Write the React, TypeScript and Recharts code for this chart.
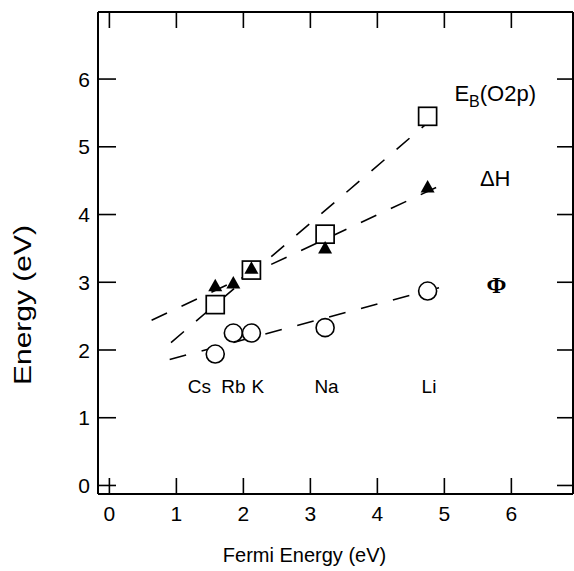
import { ComposedChart, Line, Scatter, XAxis, YAxis, ReferenceDot } from "recharts";

// alkali metals, left to right along the Fermi-energy axis
const metals = ["Cs", "Rb", "K", "Na", "Li"];
const fermiEnergy = [1.58, 1.85, 2.12, 3.22, 4.75];
// O 2p binding energy (no Rb point)
const bindingO2p = [2.67, null, 3.18, 3.71, 5.45];
const enthalpy = [2.94, 2.98, 3.2, 3.5, 4.4];
const workFunction = [1.94, 2.25, 2.25, 2.33, 2.87];

// dashed trend lines, end points in eV
const bindingFit = [
    { x: 0.92, y: 2.11 },
    { x: 4.98, y: 5.55 },
];
const enthalpyFit = [
    { x: 0.63, y: 2.44 },
    { x: 4.92, y: 4.42 },
];
const workFit = [
    { x: 0.9, y: 1.86 },
    { x: 4.92, y: 2.92 },
];

const tickValues = [0, 1, 2, 3, 4, 5, 6];
const xDomain = [-0.17, 6.92];
const yDomain = [-0.126, 6.99];

const toPoints = (ys: (number | null)[]) =>
    ys
        .map((y, i) => (y == null ? null : { x: fermiEnergy[i], y, name: metals[i] }))
        .filter(Boolean) as { x: number; y: number; name: string }[];

const squares = toPoints(bindingO2p);
const triangles = toPoints(enthalpy);
const circles = toPoints(workFunction);

const INK = "#000";
const TICK = 16;

function BottomTick({ x, y, payload }: any) {
    return (
        <g>
            <line x1={x} y1={y} x2={x} y2={y - TICK} stroke={INK} strokeWidth={1.6} />
            <text x={x} y={y + 27} textAnchor="middle" fontSize={21} fill={INK}>
                {payload.value}
            </text>
        </g>
    );
}

function TopTick({ x, y }: any) {
    return <line x1={x} y1={y} x2={x} y2={y + TICK} stroke={INK} strokeWidth={1.6} />;
}

function LeftTick({ x, y, payload }: any) {
    return (
        <g>
            <line x1={x} y1={y} x2={x + TICK + 2} y2={y} stroke={INK} strokeWidth={1.6} />
            <text x={x - 8} y={y} dy="0.36em" textAnchor="end" fontSize={21} fill={INK}>
                {payload.value}
            </text>
        </g>
    );
}

function RightTick({ x, y }: any) {
    return <line x1={x} y1={y} x2={x - TICK} y2={y} stroke={INK} strokeWidth={1.6} />;
}

function YTitle({ viewBox }: any) {
    const x = 31;
    const y = viewBox.y + viewBox.height / 2 + 52;
    return (
        <text
            x={x}
            y={y}
            transform={`rotate(-90, ${x}, ${y})`}
            textAnchor="middle"
            fontSize={23}
            textLength={160}
            lengthAdjust="spacingAndGlyphs"
            fill={INK}
        >
            Energy (eV)
        </text>
    );
}

function XTitle({ viewBox }: any) {
    const x = viewBox.x + viewBox.width / 2 - 31;
    return (
        <text x={x} y={viewBox.y + 68} textAnchor="middle" fontSize={20} fill={INK}>
            Fermi Energy (eV)
        </text>
    );
}

const Square = ({ cx, cy }: any) => (
    <rect x={cx - 9} y={cy - 9} width={18} height={18} fill="#fff" stroke={INK} strokeWidth={1.7} />
);
const Triangle = ({ cx, cy }: any) => (
    <polygon points={`${cx},${cy - 7.5} ${cx - 7},${cy + 5} ${cx + 7},${cy + 5}`} fill={INK} />
);
const Ring = ({ cx, cy }: any) => (
    <circle cx={cx} cy={cy} r={9} fill="#fff" stroke={INK} strokeWidth={1.6} />
);

// in-plot captions
const metalLabelX = [1.17, 1.67, 2.12, 3.06, 4.66];
const metalLabelY = 1.36;

const dash = { stroke: INK, strokeWidth: 1.6, strokeDasharray: "17 16" };

export default function App() {
    return (
        <div
            style={{
                position: "absolute",
                left: 0,
                top: 0,
                width: 574,
                height: 571,
                background: "#fff",
                fontFamily: "'Liberation Sans', Arial, sans-serif",
            }}
        >
            <ComposedChart width={574} height={571} margin={{ top: 0, right: 0, bottom: 0, left: 0 }}>
                <XAxis
                    xAxisId={0}
                    type="number"
                    dataKey="x"
                    domain={xDomain}
                    ticks={tickValues}
                    interval={0}
                    allowDataOverflow
                    height={77}
                    tickSize={0}
                    tickMargin={0}
                    tickLine={false}
                    axisLine={{ stroke: INK, strokeWidth: 2 }}
                    tick={<BottomTick />}
                    label={<XTitle />}
                />
                <XAxis
                    xAxisId="top"
                    orientation="top"
                    type="number"
                    dataKey="x"
                    domain={xDomain}
                    ticks={tickValues}
                    interval={0}
                    allowDataOverflow
                    height={12}
                    tickSize={0}
                    tickMargin={0}
                    tickLine={false}
                    axisLine={{ stroke: INK, strokeWidth: 2 }}
                    tick={<TopTick />}
                />
                <YAxis
                    yAxisId={0}
                    type="number"
                    domain={yDomain}
                    ticks={tickValues}
                    interval={0}
                    allowDataOverflow
                    width={98}
                    tickSize={0}
                    tickMargin={0}
                    tickLine={false}
                    axisLine={{ stroke: INK, strokeWidth: 2 }}
                    tick={<LeftTick />}
                    label={<YTitle />}
                />
                <YAxis
                    yAxisId="right"
                    orientation="right"
                    type="number"
                    domain={yDomain}
                    ticks={tickValues}
                    interval={0}
                    allowDataOverflow
                    width={1}
                    tickSize={0}
                    tickMargin={0}
                    tickLine={false}
                    axisLine={{ stroke: INK, strokeWidth: 2 }}
                    tick={<RightTick />}
                />

                <Line data={bindingFit} dataKey="y" type="linear" dot={false} activeDot={false} {...dash} isAnimationActive={false} />
                <Line data={enthalpyFit} dataKey="y" type="linear" dot={false} activeDot={false} {...dash} isAnimationActive={false} />
                <Line data={workFit} dataKey="y" type="linear" dot={false} activeDot={false} {...dash} isAnimationActive={false} />

                <Scatter data={squares} dataKey="y" shape={<Square />} isAnimationActive={false} />
                <Scatter data={triangles} dataKey="y" shape={<Triangle />} isAnimationActive={false} />
                <Scatter data={circles} dataKey="y" shape={<Ring />} isAnimationActive={false} />

                {metals.map((m, i) => (
                    <ReferenceDot
                        key={m}
                        x={metalLabelX[i]}
                        y={metalLabelY}
                        r={0}
                        shape={(p: any) => (
                            <text x={p.cx} y={p.cy} fontSize={19} fill={INK}>
                                {m}
                            </text>
                        )}
                    />
                ))}
                <ReferenceDot
                    x={5.15}
                    y={5.68}
                    r={0}
                    shape={(p: any) => (
                        <text x={p.cx} y={p.cy} fontSize={22} fill={INK}>
                            <tspan>E</tspan>
                            <tspan dy={6} fontSize={16}>B</tspan>
                            <tspan dy={-6}>(O2p)</tspan>
                        </text>
                    )}
                />
                <ReferenceDot
                    x={5.53}
                    y={4.42}
                    r={0}
                    shape={(p: any) => (
                        <text x={p.cx} y={p.cy} fontSize={22} fill={INK}>
                            ΔH
                        </text>
                    )}
                />
                <ReferenceDot
                    x={5.63}
                    y={2.84}
                    r={0}
                    shape={(p: any) => (
                        <text
                            x={p.cx}
                            y={p.cy}
                            fontSize={24}
                            fontWeight="bold"
                            fontFamily="'Liberation Serif', serif"
                            fill={INK}
                        >
                            Φ
                        </text>
                    )}
                />
            </ComposedChart>
        </div>
    );
}
